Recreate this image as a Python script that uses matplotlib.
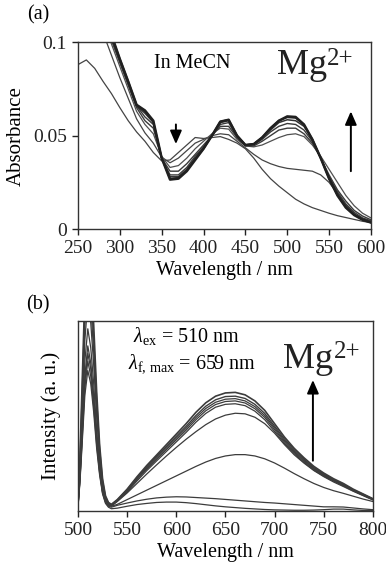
import matplotlib
matplotlib.use("Agg")
import matplotlib.pyplot as plt

plt.rcParams["font.family"] = ["Liberation Serif", "DejaVu Serif"]
plt.rcParams["mathtext.fontset"] = "custom"
plt.rcParams["mathtext.rm"] = "Liberation Serif"
plt.rcParams["mathtext.it"] = "Liberation Serif:italic"

# ---- (a) absorption titration, every 10 nm from 250 to 600 ----
wl_abs = list(range(250, 601, 10))

abs_free = [0.088, 0.0905, 0.086, 0.079, 0.0725, 0.065, 0.058, 0.052, 0.047, 0.041,
            0.0365, 0.037, 0.041, 0.045, 0.049, 0.0485, 0.049, 0.0495, 0.048, 0.046,
            0.043, 0.038, 0.032, 0.027, 0.023, 0.0195, 0.016, 0.0135, 0.0115, 0.010,
            0.0085, 0.0072, 0.0062, 0.0052, 0.0042, 0.0035]
abs_1 = [0.14, 0.13, 0.118, 0.105, 0.093, 0.081, 0.070, 0.059, 0.0515, 0.046,
         0.0385, 0.0355, 0.038, 0.042, 0.046, 0.048, 0.050, 0.051, 0.0505, 0.047,
         0.0435, 0.040, 0.037, 0.035, 0.0335, 0.0325, 0.032, 0.0315, 0.031, 0.029,
         0.025, 0.019, 0.013, 0.008, 0.005, 0.0035]
abs_2 = [0.15, 0.14, 0.126, 0.112, 0.099, 0.087, 0.075, 0.063, 0.056, 0.051,
         0.039, 0.033, 0.034, 0.038, 0.043, 0.047, 0.051, 0.054, 0.0535, 0.048,
         0.0445, 0.044, 0.045, 0.047, 0.049, 0.0505, 0.051, 0.0495, 0.045, 0.039,
         0.032, 0.025, 0.018, 0.0125, 0.0085, 0.006]
abs_3 = [0.155, 0.145, 0.13, 0.115, 0.101, 0.089, 0.077, 0.065, 0.058, 0.054,
         0.038, 0.031, 0.031, 0.035, 0.040, 0.045, 0.050, 0.055, 0.055, 0.049,
         0.0445, 0.0445, 0.047, 0.050, 0.053, 0.054, 0.054, 0.051, 0.046, 0.038,
         0.029, 0.021, 0.015, 0.010, 0.007, 0.005]
abs_4 = [0.157, 0.147, 0.132, 0.117, 0.102, 0.090, 0.078, 0.066, 0.060, 0.056,
         0.038, 0.029, 0.029, 0.033, 0.039, 0.044, 0.050, 0.056, 0.057, 0.049,
         0.045, 0.045, 0.048, 0.052, 0.055, 0.0565, 0.056, 0.053, 0.047, 0.038,
         0.028, 0.020, 0.0135, 0.009, 0.006, 0.0045]
abs_5 = [0.158, 0.148, 0.133, 0.118, 0.103, 0.0905, 0.0785, 0.066, 0.062, 0.057,
         0.038, 0.028, 0.028, 0.032, 0.038, 0.0435, 0.050, 0.057, 0.058, 0.050,
         0.045, 0.0455, 0.049, 0.053, 0.057, 0.0585, 0.058, 0.055, 0.048, 0.038,
         0.0275, 0.019, 0.0125, 0.008, 0.0055, 0.004]
abs_6 = [0.159, 0.149, 0.134, 0.119, 0.1035, 0.091, 0.079, 0.0665, 0.063, 0.0575,
         0.038, 0.027, 0.0275, 0.0315, 0.0375, 0.043, 0.050, 0.0575, 0.0585, 0.050,
         0.045, 0.0455, 0.049, 0.0538, 0.058, 0.0598, 0.0595, 0.0558, 0.048, 0.038,
         0.027, 0.0182, 0.0118, 0.0078, 0.0052, 0.0037]
abs_7 = [0.16, 0.15, 0.135, 0.12, 0.104, 0.091, 0.079, 0.0665, 0.0635, 0.058,
         0.038, 0.0265, 0.027, 0.031, 0.037, 0.043, 0.050, 0.0575, 0.0585, 0.050,
         0.045, 0.0455, 0.049, 0.054, 0.058, 0.0603, 0.060, 0.056, 0.048, 0.038,
         0.027, 0.018, 0.0115, 0.0075, 0.005, 0.0035]

# ---- (b) emission titration ----
wl_em = [500, 502, 504, 507, 510, 513, 516, 519, 522, 525, 528, 531, 534,
         540, 550, 560, 570, 580, 590, 600, 610, 620, 630, 640, 650, 660, 670,
         680, 690, 700, 710, 720, 730, 740, 750, 760, 770, 780, 790, 800]

em_1 = [0.03, 0.28, 0.63, 1.15, 1.4, 1.26, 0.98, 0.63, 0.35, 0.17, 0.08, 0.045, 0.035,
        0.06, 0.115, 0.18, 0.24, 0.295, 0.35, 0.405, 0.46, 0.52, 0.57, 0.605, 0.622,
        0.625, 0.612, 0.58, 0.53, 0.46, 0.39, 0.33, 0.28, 0.235, 0.20, 0.17, 0.145,
        0.115, 0.09, 0.065]
em_2 = [0.03, 0.26, 0.58, 1.07, 1.3, 1.17, 0.91, 0.59, 0.33, 0.16, 0.075, 0.042, 0.033,
        0.058, 0.112, 0.175, 0.233, 0.287, 0.34, 0.393, 0.446, 0.503, 0.552, 0.586,
        0.603, 0.605, 0.593, 0.562, 0.514, 0.447, 0.38, 0.322, 0.273, 0.229, 0.195,
        0.166, 0.141, 0.112, 0.088, 0.063]
em_3 = [0.03, 0.24, 0.54, 0.98, 1.2, 1.08, 0.84, 0.54, 0.3, 0.145, 0.07, 0.04, 0.031,
        0.056, 0.108, 0.17, 0.227, 0.28, 0.332, 0.384, 0.436, 0.492, 0.54, 0.573,
        0.589, 0.592, 0.58, 0.55, 0.503, 0.438, 0.372, 0.315, 0.267, 0.224, 0.191,
        0.163, 0.138, 0.11, 0.086, 0.062]
em_4 = [0.03, 0.22, 0.5, 0.9, 1.1, 0.99, 0.77, 0.5, 0.28, 0.135, 0.065, 0.038, 0.03,
        0.054, 0.104, 0.165, 0.221, 0.273, 0.324, 0.375, 0.426, 0.481, 0.528, 0.561,
        0.577, 0.58, 0.569, 0.539, 0.493, 0.429, 0.365, 0.309, 0.262, 0.22, 0.188,
        0.16, 0.136, 0.108, 0.085, 0.061]
em_5 = [0.025, 0.19, 0.43, 0.79, 0.96, 0.86, 0.67, 0.43, 0.24, 0.115, 0.058, 0.035, 0.028,
        0.052, 0.1, 0.158, 0.213, 0.264, 0.314, 0.364, 0.414, 0.468, 0.514, 0.547,
        0.562, 0.565, 0.555, 0.526, 0.481, 0.419, 0.357, 0.302, 0.256, 0.215, 0.184,
        0.157, 0.133, 0.106, 0.083, 0.06]
em_6 = [0.025, 0.17, 0.39, 0.71, 0.87, 0.78, 0.61, 0.39, 0.22, 0.105, 0.053, 0.032, 0.026,
        0.05, 0.095, 0.145, 0.195, 0.243, 0.29, 0.335, 0.378, 0.418, 0.455, 0.485,
        0.505, 0.515, 0.512, 0.494, 0.46, 0.41, 0.35, 0.296, 0.252, 0.213, 0.181,
        0.153, 0.129, 0.104, 0.081, 0.058]
em_7 = [0.025, 0.165, 0.37, 0.68, 0.83, 0.75, 0.58, 0.37, 0.21, 0.1, 0.05, 0.03, 0.025,
        0.035, 0.06, 0.085, 0.11, 0.135, 0.16, 0.185, 0.21, 0.235, 0.258, 0.277,
        0.29, 0.297, 0.297, 0.29, 0.275, 0.253, 0.226, 0.197, 0.17, 0.145, 0.124,
        0.107, 0.093, 0.078, 0.063, 0.05]
em_8 = [0.02, 0.16, 0.35, 0.65, 0.79, 0.71, 0.55, 0.35, 0.2, 0.095, 0.045, 0.025, 0.02,
        0.03, 0.042, 0.053, 0.062, 0.069, 0.073, 0.075, 0.074, 0.071, 0.068, 0.065,
        0.061, 0.057, 0.053, 0.049, 0.045, 0.042, 0.038, 0.034, 0.03, 0.026, 0.022,
        0.022, 0.021, 0.016, 0.011, 0.007]
em_9 = [0.02, 0.15, 0.33, 0.61, 0.74, 0.67, 0.52, 0.33, 0.19, 0.09, 0.04, 0.02, 0.012,
        0.015, 0.025, 0.034, 0.04, 0.045, 0.047, 0.047, 0.044, 0.039, 0.033, 0.027,
        0.022, 0.018, 0.014, 0.011, 0.008, 0.006, 0.005, 0.004, 0.004, 0.005, 0.007,
        0.01, 0.01, 0.006, 0.003, 0.002]

line_col = "#3c3c3c"
arrow_props = dict(arrowstyle="-|>,head_length=0.8,head_width=0.35",
                   color="black", lw=1.4, shrinkA=0, shrinkB=0)


def mg_label(ax, x, y):
    # "Mg" with a tight "2+" superscript
    t = ax.text(x, y, "Mg", fontsize=26, ha="left", va="baseline", color="#222222")
    ax.annotate("2+", xy=(1.0, 1.04), xycoords=t, fontsize=18, ha="left", va="top",
                color="#222222")


fig = plt.figure(figsize=(3.86, 5.70), dpi=100)
ax1 = fig.add_axes([0.202, 0.598, 0.759, 0.328])
ax2 = fig.add_axes([0.202, 0.1035, 0.764, 0.333])

# (a)
for ys, lw, c in [(abs_free, 0.9, "#444444"), (abs_1, 0.9, "#444444"),
                  (abs_2, 0.9, "#505050"), (abs_3, 1.0, "#3a3a3a"),
                  (abs_4, 1.0, "#3a3a3a"), (abs_5, 1.1, "#333333"),
                  (abs_6, 1.3, "#2a2a2a"), (abs_7, 1.8, "#202020")]:
    ax1.plot(wl_abs, ys, color=c, lw=lw, solid_joinstyle="round")

ax1.set_xlim(250, 600)
ax1.set_ylim(0, 0.1)
ax1.set_xticks(range(250, 601, 50))
ax1.set_yticks([0, 0.05, 0.1])
ax1.set_yticklabels(["0", "0.05", "0.1"])
ax1.set_xlabel("Wavelength / nm", fontsize=14.5, labelpad=3)
ax1.set_ylabel("Absorbance", fontsize=15, labelpad=5)
ax1.text(387, 0.0885, "In MeCN", fontsize=14.5, ha="center", va="center")
mg_label(ax1, 488, 0.083)
ax1.annotate("", xy=(367, 0.0455), xytext=(367, 0.056), arrowprops=arrow_props)
ax1.annotate("", xy=(576, 0.063), xytext=(576, 0.031), arrowprops=arrow_props)

# (b)
for ys, lw in [(em_9, 0.9), (em_8, 0.9), (em_7, 0.9), (em_6, 0.9), (em_5, 0.9),
               (em_4, 0.9), (em_3, 0.9), (em_2, 1.0), (em_1, 1.2)]:
    ax2.plot(wl_em, ys, color=line_col, lw=lw, solid_joinstyle="round")

ax2.set_xlim(500, 800)
ax2.set_ylim(0, 1.0)
ax2.set_xticks(range(500, 801, 50))
ax2.set_yticks([])
ax2.set_xlabel("Wavelength / nm", fontsize=14.5, labelpad=3)
ax2.set_ylabel("Intensity (a. u.)", fontsize=15, labelpad=12)
ax2.text(556, 0.92, r"$\lambda_{\rm ex}$ = 510 nm", fontsize=14.5, ha="left", va="center")
ax2.text(551, 0.775, r"$\lambda_{\rm f,\,max}$ = 659 nm", fontsize=14.5, ha="left", va="center")
mg_label(ax2, 709, 0.755)
ax2.annotate("", xy=(739, 0.69), xytext=(739, 0.265), arrowprops=arrow_props)

for ax in (ax1, ax2):
    for s in ax.spines.values():
        s.set_linewidth(1.0)
        s.set_color("#333333")
    ax.tick_params(direction="out", length=4, width=1.0, labelsize=14, pad=4,
                   colors="#222222")

fig.text(0.098, 0.974, "(a)", fontsize=14.5, ha="center", va="center")
fig.text(0.098, 0.465, "(b)", fontsize=14.5, ha="center", va="center")

fig.savefig("out.png", dpi=100)
